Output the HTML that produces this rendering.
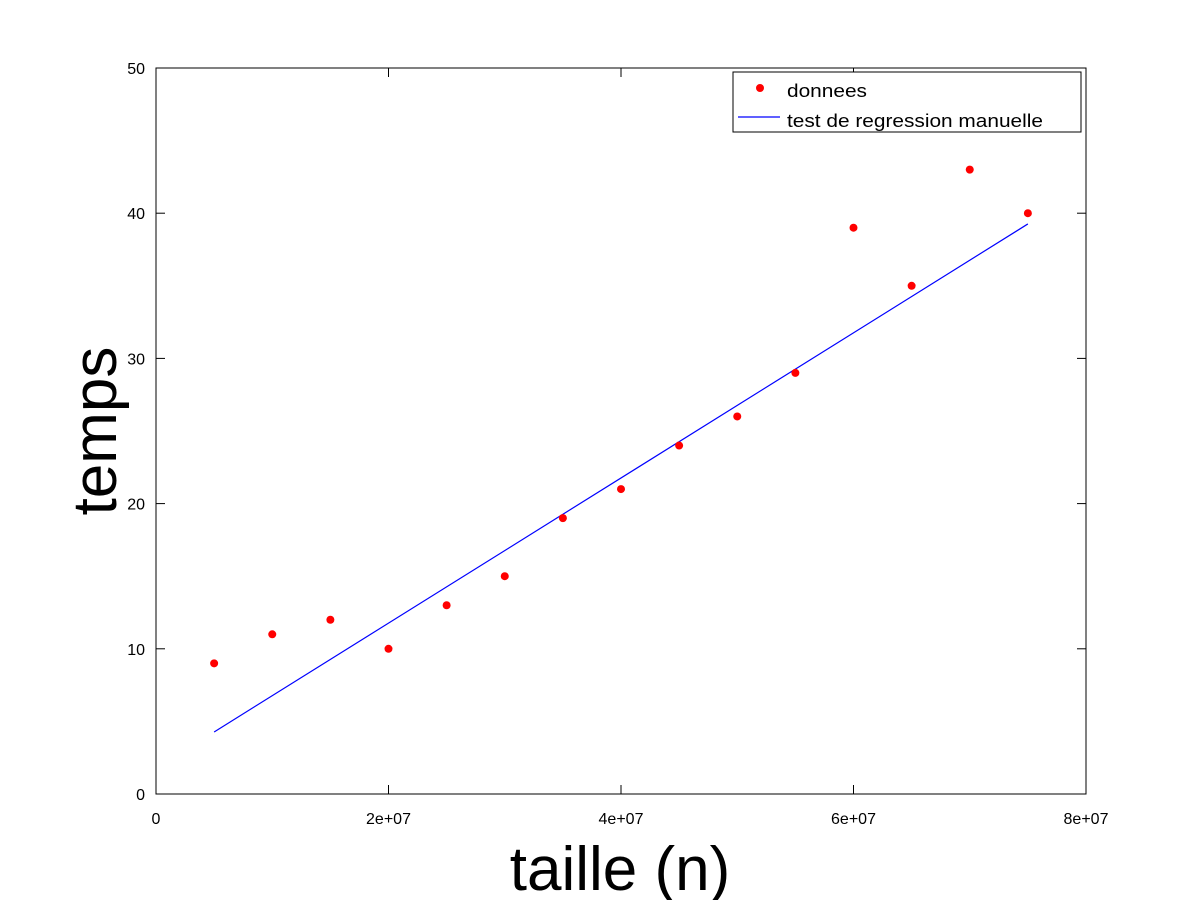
<!DOCTYPE html>
<html><head><meta charset="utf-8"><style>body{margin:0;background:#fff}svg{display:block}</style></head>
<body>
<svg id="chart" width="1200" height="900" xmlns="http://www.w3.org/2000/svg" font-family="Liberation Sans, sans-serif"></svg>
<script>
const xValues=[5e6,1e7,1.5e7,2e7,2.5e7,3e7,3.5e7,4e7,4.5e7,5e7,5.5e7,6e7,6.5e7,7e7,7.5e7];
const yValues=[9,11,12,10,13,15,19,21,24,26,29,39,35,43,40];
const fitX=[5e6,7.5e7];
const fitY=[4.27,39.26];
const xTicks=[0,2e7,4e7,6e7,8e7];
const xTickLabels=["0","2e+07","4e+07","6e+07","8e+07"];
const yTicks=[0,10,20,30,40,50];
const yTickLabels=["0","10","20","30","40","50"];
const L=156,R=1086,T=68,B=794;
const sx=v=>L+(v-0)/(8e7)*(R-L);
const sy=v=>B-(v-0)/50*(B-T);
const svg=document.getElementById('chart');
const NS='http://www.w3.org/2000/svg';
function mk(tag,attrs,parent){const e=document.createElementNS(NS,tag);for(const k in attrs)e.setAttribute(k,attrs[k]);(parent||svg).appendChild(e);return e;}
let e;
e=mk('rect',{x:L,y:T,width:R-L,height:B-T,fill:'none',stroke:'#000','stroke-width':1});


xTicks.forEach((t,i)=>{
  const x=sx(t);
  e=mk('line',{x1:x,y1:B,x2:x,y2:B-9,stroke:'#000'});
  
  
  e=mk('line',{x1:x,y1:T,x2:x,y2:T+9,stroke:'#000'});
  
  
  e=mk('text',{x:x,y:B+30,'text-anchor':'middle','font-size':16});
  e.textContent=xTickLabels[i];
  
  
});
yTicks.forEach((t,i)=>{
  const y=sy(t);
  e=mk('line',{x1:L,y1:y,x2:L+9,y2:y,stroke:'#000'});
  
  
  e=mk('line',{x1:R,y1:y,x2:R-9,y2:y,stroke:'#000'});
  
  
  e=mk('text',{x:L-11,y:y+6,'text-anchor':'end','font-size':16});
  e.textContent=yTickLabels[i];
  
  
});
e=mk('line',{x1:sx(fitX[0]),y1:sy(fitY[0]),x2:sx(fitX[1]),y2:sy(fitY[1]),stroke:'#0000ff','stroke-width':1.2});


xValues.forEach((v,i)=>{
  e=mk('circle',{cx:sx(v),cy:sy(yValues[i]),r:4,fill:'#ff0000'});
  
  
});
e=mk('text',{x:620,y:890,'text-anchor':'middle','font-size':62});
e.textContent='taille (n)';


e=mk('text',{x:0,y:0,'text-anchor':'middle','font-size':62,transform:'translate(116,431) rotate(-90)'});
e.textContent='temps';


const lg=mk('g',{});


e=mk('rect',{x:733,y:72,width:348,height:60,fill:'#fff',stroke:'#000'},lg);


e=mk('circle',{cx:760,cy:88,r:4,fill:'#ff0000'},lg);


e=mk('text',{x:787,y:97,'font-size':18,textLength:80,lengthAdjust:'spacingAndGlyphs'},lg);
e.textContent='donnees';


e=mk('line',{x1:738,y1:117,x2:780,y2:117,stroke:'#0000ff','stroke-width':1.2},lg);


e=mk('text',{x:787,y:127,'font-size':18,textLength:256,lengthAdjust:'spacingAndGlyphs'},lg);
e.textContent='test de regression manuelle';


</script>
</body></html>
